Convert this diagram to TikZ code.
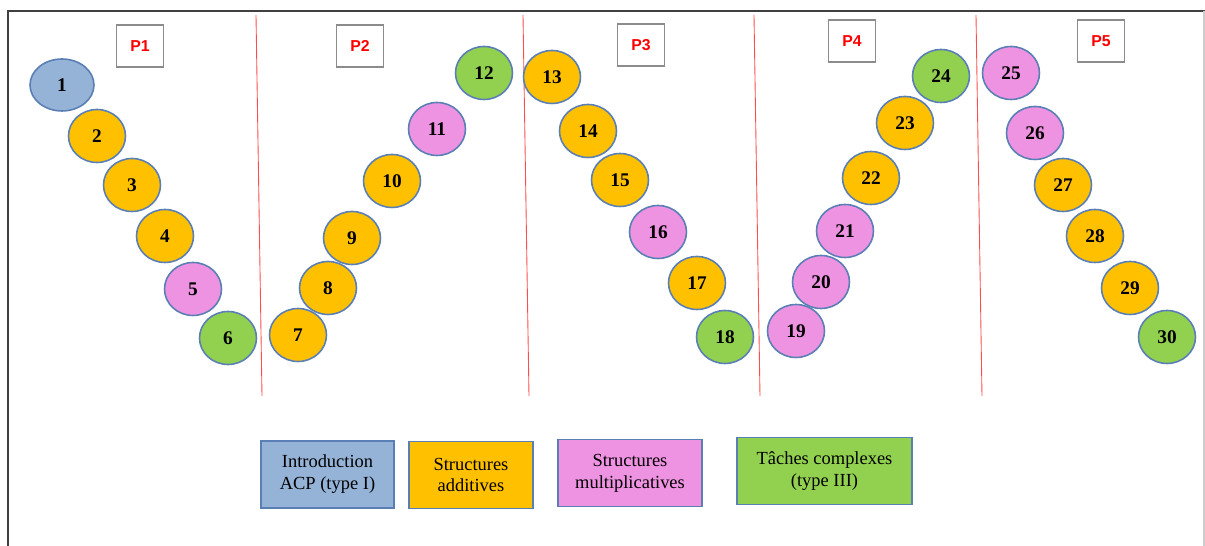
\documentclass[tikz,border=0pt]{standalone}
\usepackage{fontspec}
\setmainfont{Liberation Serif}
\newfontfamily\plabelfont{Liberation Sans}
\usetikzlibrary{shapes.geometric}

\definecolor{acpblue}{HTML}{95B3D7}
\definecolor{addorange}{HTML}{FFC000}
\definecolor{multpink}{HTML}{EE92E2}
\definecolor{complgreen}{HTML}{92D050}
\definecolor{rimblue}{HTML}{5A7FB5}

\tikzset{
  task/.style={ellipse, draw=rimblue, line width=0.9pt, inner sep=0pt,
    minimum width=1.14cm, minimum height=1.06cm,
    font=\bfseries\fontsize{11}{11}\selectfont},
  periodbox/.style={draw=black!45, line width=0.8pt, fill=white,
    minimum width=0.94cm, minimum height=0.84cm, inner sep=0pt,
    font=\plabelfont\bfseries\fontsize{9}{9}\selectfont, text=red},
  keybox/.style={draw=rimblue, line width=1pt, minimum height=1.34cm,
    inner sep=1pt, align=center, font=\fontsize{10.5}{12.5}\selectfont},
  sepline/.style={red!70, line width=0.5pt}
}

\begin{document}
\begin{tikzpicture}[x=0.02cm,y=-0.02cm]
        % page size and frame
        \useasboundingbox (0,0) rectangle (1205,546);
        \draw[black!75, line width=1.1pt] (8,546) -- (8,11) -- (1205,11);
        \draw[black!20, line width=0.6pt] (1204,11) -- (1204,546);

        % separators between the periods
        \draw[sepline] (256,15) -- (262,396);
        \draw[sepline] (523,15) -- (529,396);
        \draw[sepline] (754,15) -- (760,396);
        \draw[sepline] (976,15) -- (982,396);

        % period labels
        \node[periodbox] (p1) at (140,46) {P1};
        \node[periodbox] (p2) at (360,46) {P2};
        \node[periodbox] (p3) at (641,45) {P3};
        \node[periodbox] (p4) at (852,41) {P4};
        \node[periodbox] (p5) at (1101,41) {P5};

        % the tasks
        \node[task, fill=acpblue, minimum width=1.28cm, minimum height=1.04cm] (t1) at (62,85) {1};
        \foreach \n/\x/\y/\c in {2/97/136/addorange, 3/132/185/addorange,
                4/165/236/addorange, 5/193/289/multpink, 6/228/338/complgreen,
                7/298/335/addorange, 8/328/288/addorange, 9/352/238/addorange,
                10/392/181/addorange, 11/437/129/multpink, 12/484/73/complgreen,
                13/552/77/addorange, 14/588/131/addorange, 15/620/180/addorange,
                16/658/232/multpink, 17/697/283/addorange, 18/725/337/complgreen,
                19/796/331/multpink, 20/821/282/multpink, 21/845/231/multpink,
                22/871/178/addorange, 23/905/123/addorange, 24/941/76/complgreen,
                25/1011/73/multpink, 26/1035/133/multpink, 27/1063/185/addorange,
                28/1095/236/addorange, 29/1130/288/addorange, 30/1167/337/complgreen} {
                \node[task, fill=\c] (t\n) at (\x,\y) {\n};
        }

        % legend
        \node[keybox, fill=acpblue, minimum width=2.66cm] (kacp) at (327.5,474.5) {Introduction\\ACP (type I)};
        \node[keybox, fill=addorange, minimum width=2.48cm] (kadd) at (471,475) {Structures\\additives};
        \node[keybox, fill=multpink, minimum width=2.88cm] (kmult) at (630,473) {Structures\\multiplicatives};
        \node[keybox, fill=complgreen, minimum width=3.5cm] (kcompl) at (824.5,471) {Tâches complexes\\(type III)};

\end{tikzpicture}
\end{document}
